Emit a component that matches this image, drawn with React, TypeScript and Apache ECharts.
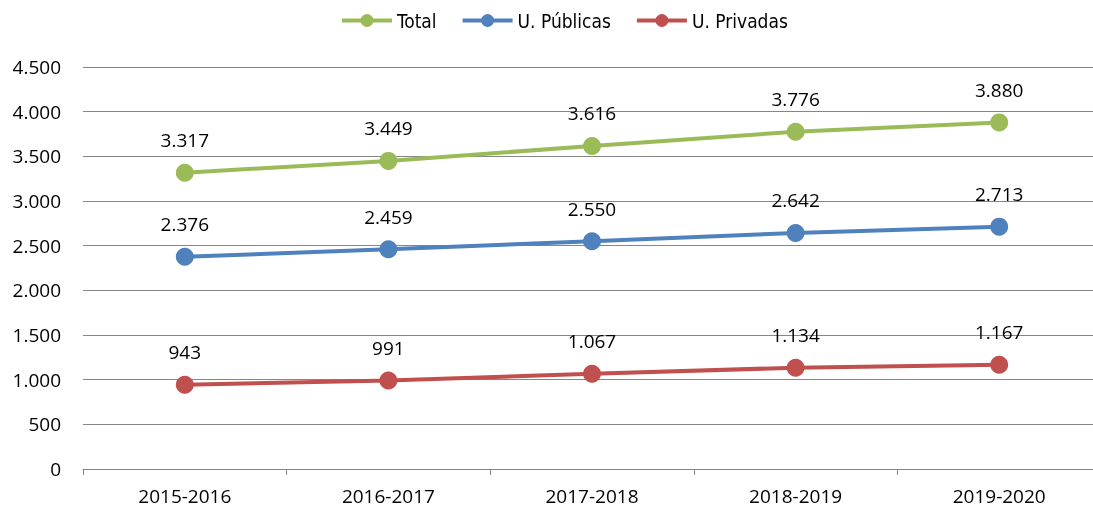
import React, { useEffect, useRef } from "react";
import * as echarts from "echarts";

const categories = ["2015-2016", "2016-2017", "2017-2018", "2018-2019", "2019-2020"];
const total = [3317, 3449, 3616, 3776, 3880];
const publicas = [2376, 2459, 2550, 2642, 2713];
const privadas = [943, 991, 1067, 1134, 1167];

const fmt = (v: number) => String(v).replace(/\B(?=(\d{3})+(?!\d))/g, ".");

export default function App() {
  const ref = useRef<HTMLDivElement>(null);
  useEffect(() => {
    const chart = echarts.init(ref.current!, null, { renderer: "svg" });
    const font = "Open Sans, Noto Sans, sans-serif";
    const mk = (name: string, data: number[], color: string) => ({
      name,
      type: "line",
      data,
      symbol: "circle",
      symbolSize: 18,
      lineStyle: { width: 4, color },
      itemStyle: { color },
      label: {
        show: true,
        position: "top",
        distance: 14,
        formatter: (p: any) => fmt(p.value),
        fontFamily: font,
        fontSize: 19,
        color: "#000",
      },
    });
    chart.setOption({
      animation: false,
      legend: {
        top: 6,
        left: 335,
        itemWidth: 50,
        itemHeight: 16,
        itemGap: 24,
        lineStyle: { width: 4 },
        textStyle: { fontFamily: "DejaVu Sans Condensed, sans-serif", fontSize: 19, color: "#000" },
        data: ["Total", "U. Públicas", "U. Privadas"],
      },
      grid: { left: 83, right: 0, top: 67, bottom: 41 },
      xAxis: {
        type: "category",
        data: categories,
        boundaryGap: true,
        axisLine: { lineStyle: { color: "#868686", width: 1 } },
        axisTick: { show: true, length: 6, lineStyle: { color: "#868686" } },
        axisLabel: { fontFamily: font, fontSize: 19, color: "#000", margin: 17 },
      },
      yAxis: {
        type: "value",
        min: 0,
        max: 4500,
        interval: 500,
        axisLine: { show: false },
        axisTick: { show: false },
        splitLine: { lineStyle: { color: "#868686", width: 1 } },
        axisLabel: { fontFamily: font, fontSize: 19, color: "#000", margin: 22, formatter: (v: number) => fmt(v) },
      },
      series: [
        mk("Total", total, "#9BBB59"),
        mk("U. Públicas", publicas, "#4F81BD"),
        mk("U. Privadas", privadas, "#C0504D"),
      ],
    });
    return () => chart.dispose();
  }, []);
  return (
    <div style={{ position: "fixed", left: 0, top: 0, width: 1093, height: 510, overflow: "hidden" }}>
      <div ref={ref} style={{ width: 1101, height: 510 }} />
    </div>
  );
}
